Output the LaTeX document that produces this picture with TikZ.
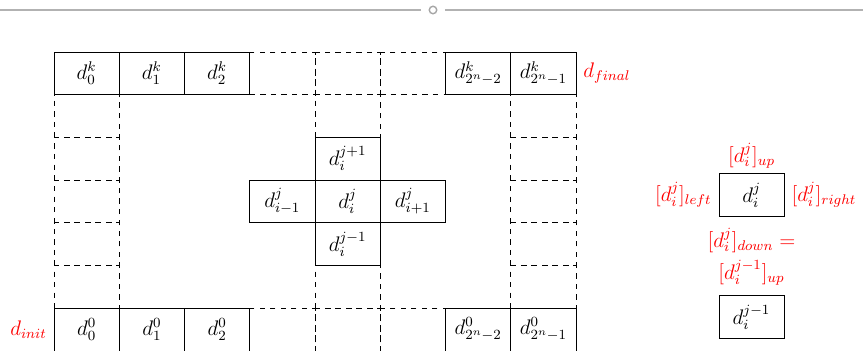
\documentclass[tikz,border=0pt]{standalone}
\usetikzlibrary{positioning}

\tikzset{
  cell/.style={draw=black, minimum width=1.305cm, minimum height=0.854cm, inner sep=0pt, outer sep=0pt},
  dcell/.style={cell, dashed},
  redlbl/.style={text=red, inner sep=1pt}
}

\begin{document}
\begin{tikzpicture}[every node/.style={font=\large}]

  \useasboundingbox (0,0) rectangle (17.26,7.02);

  % --- top separator ---
  \coordinate (sepL) at (0,6.82);
  \coordinate (sepR) at (17.26,6.82);
  \node[draw=gray!70, circle, thick, inner sep=0pt, minimum size=0.15cm] (knob) at (8.66,6.82) {};
  \draw[gray!60, line width=1.2pt] (sepL) -- ([xshift=-0.15cm]knob.west);
  \draw[gray!60, line width=1.2pt] ([xshift=0.15cm]knob.east) -- (sepR);

  % --- dashed cells ---
  \foreach \c in {3,4,5} {
    \node[dcell] (t\c) at (1.7325+1.305*\c, 5.553) {};
    \node[dcell] (b\c) at (1.7325+1.305*\c, 0.429) {};
  }
  \foreach \r in {1,...,5} {
    \node[dcell] (l\r) at (1.7325, 5.553-0.854*\r) {};
    \node[dcell] (r\r) at (10.8675, 5.553-0.854*\r) {};
  }
  \node[dcell] (m1) at (6.9525, 4.699) {};
  \node[dcell] (m5) at (6.9525, 1.283) {};

  % --- top row: d^k ---
  \node[cell] (t0) at (1.7325, 5.553) {$d_0^k$};
  \node[cell] (t1) at (3.0375, 5.553) {$d_1^k$};
  \node[cell] (t2) at (4.3425, 5.553) {$d_2^k$};
  \node[cell] (t6) at (9.5625, 5.553) {$d_{2^n-2}^k$};
  \node[cell] (t7) at (10.8675, 5.553) {$d_{2^n-1}^k$};
  \node[redlbl, right=3pt of t7] (dfinal) {$d_{final}$};

  % --- bottom row: d^0 ---
  \node[cell] (b0) at (1.7325, 0.429) {$d_0^0$};
  \node[cell] (b1) at (3.0375, 0.429) {$d_1^0$};
  \node[cell] (b2) at (4.3425, 0.429) {$d_2^0$};
  \node[cell] (b6) at (9.5625, 0.429) {$d_{2^n-2}^0$};
  \node[cell] (b7) at (10.8675, 0.429) {$d_{2^n-1}^0$};
  \node[redlbl, left=3pt of b0] (dinit) {$d_{init}$};

  % --- stencil in the middle ---
  \node[cell] (up)    at (6.9525, 3.845) {$d_i^{j+1}$};
  \node[cell] (mid)   at (6.9525, 2.991) {$d_i^j$};
  \node[cell] (down)  at (6.9525, 2.137) {$d_i^{j-1}$};
  \node[cell] (left)  at (5.6475, 2.991) {$d_{i-1}^j$};
  \node[cell] (right) at (8.2575, 2.991) {$d_{i+1}^j$};

  % --- legend on the right ---
  \node[cell] (cur) at (15.03, 3.12) {$d_i^j$};
  \node[redlbl, above=2pt of cur] (curup) {$[d_i^j]_{up}$};
  \node[redlbl, left=3pt of cur] (curleft) {$[d_i^j]_{left}$};
  \node[redlbl, right=3pt of cur] (curright) {$[d_i^j]_{right}$};
  \node[redlbl] (curdown) at (15.03, 2.22) {$[d_i^j]_{down} =$};
  \node[redlbl] (prevup) at (15.03, 1.56) {$[d_i^{j-1}]_{up}$};
  \node[cell] (prev) at (15.03, 0.68) {$d_i^{j-1}$};

\end{tikzpicture}
\end{document}
